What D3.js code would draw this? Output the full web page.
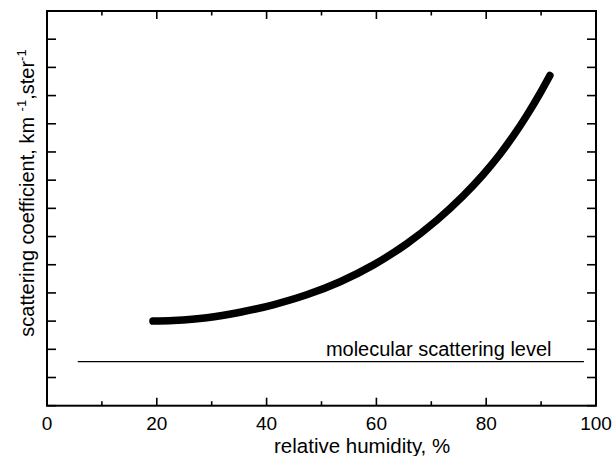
<!DOCTYPE html>
<html>
<head>
<meta charset="utf-8">
<script src="https://cdn.jsdelivr.net/npm/d3@7"></script>
<style>
  html, body { margin: 0; padding: 0; background: #fff; }
  svg { display: block; font-family: "Liberation Sans", Arial, sans-serif; }
</style>
</head>
<body>
<svg id="chart"></svg>
<script>
// Relative humidity (%) along the curve
const humidity = [19.3, 23.0, 29.1, 35.2, 41.2, 47.3, 53.4, 59.4, 65.5, 71.0, 75.8, 79.5, 82.5, 84.9, 87.4, 89.8, 91.6];
// Scattering coefficient (arbitrary units, axis has no labels)
const scattering = [1.500, 1.511, 1.560, 1.658, 1.790, 1.967, 2.199, 2.493, 2.871, 3.289, 3.721, 4.106, 4.460, 4.779, 5.149, 5.540, 5.857];
// Molecular scattering level: value and horizontal extent
const molecularLevel = 0.78;
const molecularRange = [5.6, 97.8];
const molecularLabel = 'molecular scattering level';
// Axis ticks
const xMajorTicks = [0, 20, 40, 60, 80, 100];
const xMinorTicks = [10, 30, 50, 70, 90];
const yTicks = d3.range(0, 7.01, 0.5);

const W = 613, H = 456;
const margin = { top: 11, right: 17, bottom: 50.3, left: 47 };
const innerW = W - margin.left - margin.right;
const innerH = H - margin.top - margin.bottom;

const svg = d3.select('#chart').attr('width', W).attr('height', H);
const g = svg.append('g').attr('transform', `translate(${margin.left},${margin.top})`);

const x = d3.scaleLinear().domain([0, 100]).range([0, innerW]);
const y = d3.scaleLinear().domain([0, 7]).range([innerH, 0]);

// --- Ticks (pointing inward on all four sides) ---
const tickStroke = 1.6;
const major = 8, minor = 4.5, yTickLen = 9;

function vTicks(values, len, atY, dir) {
  g.selectAll(null).data(values).join('line')
    .attr('x1', d => x(d)).attr('x2', d => x(d))
    .attr('y1', atY).attr('y2', atY + dir * len)
    .attr('stroke', '#000').attr('stroke-width', tickStroke);
}
vTicks(xMajorTicks, major, innerH, -1);
vTicks(xMinorTicks, minor, innerH, -1);
vTicks(xMajorTicks, major, 0, 1);
vTicks(xMinorTicks, minor, 0, 1);

g.selectAll(null).data(yTicks).join('line')
  .attr('x1', 0).attr('x2', yTickLen)
  .attr('y1', d => y(d)).attr('y2', d => y(d))
  .attr('stroke', '#000').attr('stroke-width', tickStroke);
g.selectAll(null).data(yTicks).join('line')
  .attr('x1', innerW).attr('x2', innerW - yTickLen)
  .attr('y1', d => y(d)).attr('y2', d => y(d))
  .attr('stroke', '#000').attr('stroke-width', tickStroke);

// Frame
g.append('rect')
  .attr('x', 0).attr('y', 0)
  .attr('width', innerW).attr('height', innerH)
  .attr('fill', 'none').attr('stroke', '#000').attr('stroke-width', 2);

// X tick labels
g.selectAll(null).data(xMajorTicks).join('text')
  .attr('x', d => x(d))
  .attr('y', innerH + 24.5)
  .attr('text-anchor', 'middle')
  .attr('font-size', '19px')
  .attr('fill', '#000')
  .text(d => d);

// Axis titles
g.append('text')
  .attr('x', x(57.4))
  .attr('y', innerH + 47)
  .attr('text-anchor', 'middle')
  .attr('font-size', '20.5px')
  .attr('fill', '#000')
  .text('relative humidity, %');

const yLab = svg.append('text')
  .attr('transform', `translate(33.5, 193) rotate(-90)`)
  .attr('text-anchor', 'middle')
  .attr('font-size', '20px')
  .attr('fill', '#000');
yLab.append('tspan').text('scattering coefficient, km ');
yLab.append('tspan').attr('font-size', '13px').attr('dy', -8).text('-1');
yLab.append('tspan').attr('dy', 8).text(',ster');
yLab.append('tspan').attr('font-size', '13px').attr('dy', -8).text('-1');

// Molecular scattering level
g.append('line')
  .attr('x1', x(molecularRange[0])).attr('x2', x(molecularRange[1]))
  .attr('y1', y(molecularLevel)).attr('y2', y(molecularLevel))
  .attr('stroke', '#000').attr('stroke-width', 1.2);
g.append('text')
  .attr('x', x(50.8))
  .attr('y', y(molecularLevel) - 6)
  .attr('font-size', '20px')
  .attr('fill', '#000')
  .text(molecularLabel);

// Curve
const pts = humidity.map((h, i) => [h, scattering[i]]);
g.append('path')
  .datum(pts)
  .attr('fill', 'none')
  .attr('stroke', '#000')
  .attr('stroke-width', 7.5)
  .attr('stroke-linecap', 'round')
  .attr('stroke-linejoin', 'round')
  .attr('d', d3.line().x(d => x(d[0])).y(d => y(d[1])).curve(d3.curveCatmullRom.alpha(0.5)));
</script>
</body>
</html>
